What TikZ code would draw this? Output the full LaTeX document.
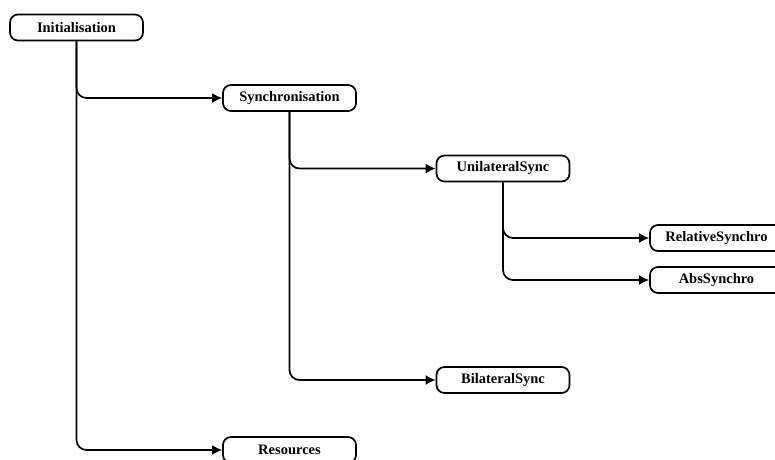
\documentclass[tikz,border=0pt]{standalone}
\usepackage{fontspec}
\setmainfont{Liberation Serif}
\usetikzlibrary{arrows.meta}
\begin{document}
\begin{tikzpicture}[x=1pt,y=-1pt,
  box/.style={draw,line width=1.7pt,rounded corners=8pt,minimum width=133pt,minimum height=26pt,inner sep=0pt,font=\fontsize{14.5}{17}\selectfont\bfseries},
  link/.style={line width=1.7pt,rounded corners=10pt,-{Latex[length=10pt,width=10pt]}}]
\useasboundingbox (0,0) rectangle (775,459);
\node[box] (init) at (76.5,27.5) {Initialisation};
\node[box] (sync) at (289.5,98) {Synchronisation};
\node[box] (uni) at (503,168.5) {UnilateralSync};
\node[box] (rel) at (716.5,238) {RelativeSynchro};
\node[box] (abs) at (716.5,280) {AbsSynchro};
\node[box] (bil) at (503,380) {BilateralSync};
\node[box] (res) at (289.5,450) {Resources};
\draw[link] (init.south) |- (sync.west);
\draw[link] (init.south) |- (res.west);
\draw[link] (sync.south) |- (uni.west);
\draw[link] (sync.south) |- (bil.west);
\draw[link] (uni.south) |- (rel.west);
\draw[link] (uni.south) |- (abs.west);
\end{tikzpicture}
\end{document}
